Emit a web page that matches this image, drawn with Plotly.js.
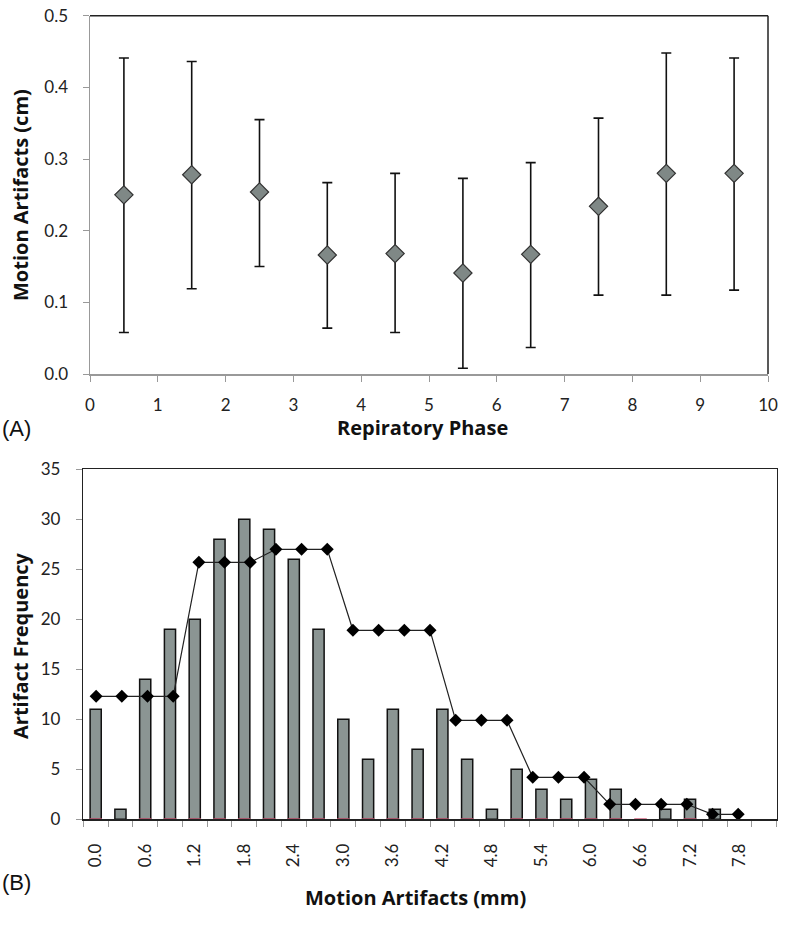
<!DOCTYPE html>
<html>
<head>
<meta charset="utf-8">
<script src="https://cdn.plot.ly/plotly-3.0.1.min.js"></script>
<style>html,body{margin:0;padding:0;background:#fff;}#chart{width:791px;height:931px;}</style>
</head>
<body>
<div id="chart"></div>
<script>
// ---------- Panel A data ----------
const phases = [0.5, 1.5, 2.5, 3.5, 4.5, 5.5, 6.5, 7.5, 8.5, 9.5];
const meanArtifact = [0.250, 0.278, 0.254, 0.166, 0.168, 0.141, 0.167, 0.234, 0.280, 0.280];
const upperArtifact = [0.441, 0.436, 0.355, 0.267, 0.280, 0.273, 0.295, 0.357, 0.448, 0.441];
const lowerArtifact = [0.058, 0.119, 0.150, 0.064, 0.058, 0.008, 0.037, 0.110, 0.110, 0.117];
const phaseTicks = [0, 1, 2, 3, 4, 5, 6, 7, 8, 9, 10];
const artifactTicks = [0.0, 0.1, 0.2, 0.3, 0.4, 0.5];

// ---------- Panel B data ----------
const binLabels = ['0.0','0.3','0.6','0.9','1.2','1.5','1.8','2.1','2.4','2.7','3.0','3.3','3.6','3.9',
                   '4.2','4.5','4.8','5.1','5.4','5.7','6.0','6.3','6.6','6.9','7.2','7.5','7.8','8.1'];
const binFreq = [11, 1, 14, 19, 20, 28, 30, 29, 26, 19, 10, 6, 11, 7, 11, 6, 1, 5, 3, 2, 4, 3, 0, 1, 2, 1, 0, 0];
const pinkVals = [0, null, 0, 0, 0, 0, 0, 0, 0, 0, 0, 0, 0, 0, 0, 0, null, 0, 0, 0, 0, 0, 0, null, 0, null, null, null];
const lineCats = ['0.0','0.3','0.6','0.9','1.2','1.5','1.8','2.1','2.4','2.7','3.0','3.3','3.6','3.9',
                  '4.2','4.5','4.8','5.1','5.4','5.7','6.0','6.3','6.6','6.9','7.2','7.5','7.8'];
const lineVals = [12.3, 12.3, 12.3, 12.3, 25.7, 25.7, 25.7, 27.0, 27.0, 27.0, 18.9, 18.9, 18.9, 18.9,
                  9.9, 9.9, 9.9, 4.2, 4.2, 4.2, 1.5, 1.5, 1.5, 1.5, 0.5, 0.5];
const freqTicks = [0, 5, 10, 15, 20, 25, 30, 35];
const binTickText = binLabels.map((l, i) => (i % 2 === 0 && i < 27) ? l : '');

const errPlus = upperArtifact.map((u, i) => u - meanArtifact[i]);
const errMinus = lowerArtifact.map((l, i) => meanArtifact[i] - l);
const barShown = binFreq.map(v => v === 0 ? null : v);   // empty bins draw nothing

const W = 791, H = 931;
const px = v => v / W;
const py = v => 1 - v / H;

const tickFont = {family: 'Lato, "Open Sans", sans-serif', size: 17, color: '#222'};
const titleFont = {family: '"Open Sans", Lato, sans-serif', size: 20, color: '#111', weight: 'bold'};
const panelFont = {family: '"Liberation Sans", Arial, sans-serif', size: 22, color: '#111'};

const traces = [
  {
    type: 'scatter', mode: 'markers', x: phases, y: meanArtifact,
    xaxis: 'x', yaxis: 'y',
    marker: {symbol: 'diamond', size: 14, color: '#7f8886', line: {color: '#333', width: 1.2}},
    error_y: {type: 'data', symmetric: false, array: errPlus, arrayminus: errMinus,
              color: '#111', thickness: 1.6, width: 5}
  },
  {
    type: 'bar', x: binLabels, y: barShown, xaxis: 'x2', yaxis: 'y2', width: 0.45,
    marker: {color: '#8b9593', line: {color: '#111', width: 1.5}}
  },
  {
    type: 'scatter', mode: 'markers', x: binLabels, y: pinkVals, xaxis: 'x2', yaxis: 'y2',
    marker: {symbol: 'line-ew', size: 9, line: {color: '#d05a78', width: 2}}, cliponaxis: false
  },
  {
    type: 'scatter', mode: 'lines+markers', x: lineCats.slice(0, lineVals.length), y: lineVals,
    xaxis: 'x3', yaxis: 'y2',
    line: {color: '#222', width: 1.2},
    marker: {symbol: 'diamond', size: 10, color: '#000'}
  }
];

const layout = {
  width: W, height: H,
  margin: {l: 0, r: 0, t: 0, b: 0},
  paper_bgcolor: '#fff', plot_bgcolor: '#fff',
  showlegend: false,
  xaxis: {
    domain: [px(90), px(768)], anchor: 'y', range: [0, 10],
    tickvals: phaseTicks, ticks: 'outside', ticklen: 6, tickcolor: '#999', tickwidth: 1,
    showline: true, linecolor: '#999', linewidth: 1.5, showgrid: false, zeroline: false,
    tickfont: tickFont, ticklabelstandoff: 9
  },
  yaxis: {
    domain: [py(374), py(15.7)], anchor: 'x', range: [0, 0.5],
    tickvals: artifactTicks, tickformat: '.1f', ticks: 'outside', ticklen: 6, tickcolor: '#999',
    showline: true, linecolor: '#999', linewidth: 1.5, showgrid: false, zeroline: false,
    tickfont: tickFont, ticklabelstandoff: 11
  },
  xaxis2: {
    domain: [px(83.3), px(776.7)], anchor: 'y2', type: 'category',
    categoryorder: 'array', categoryarray: binLabels, range: [-0.5, binLabels.length - 0.5],
    tickvals: binLabels, ticktext: binTickText, tickson: 'boundaries',
    ticks: 'outside', ticklen: 6, tickcolor: '#999', tickangle: -90,
    showline: true, linecolor: '#222', linewidth: 1.5, mirror: true, showgrid: false, zeroline: false,
    tickfont: tickFont, ticklabelstandoff: 16
  },
  xaxis3: {
    domain: [px(83.3), px(776.7)], anchor: 'y2', overlaying: 'x2', type: 'category',
    categoryorder: 'array', categoryarray: lineCats, range: [-0.5, lineCats.length - 0.5],
    visible: false
  },
  yaxis2: {
    domain: [py(819.3), py(469.3)], anchor: 'x2', range: [0, 35],
    tickvals: freqTicks, ticks: 'outside', ticklen: 6, tickcolor: '#999',
    showline: true, linecolor: '#222', linewidth: 1.5, mirror: true, showgrid: false, zeroline: false,
    tickfont: tickFont, ticklabelstandoff: 12
  },
  shapes: [
    {type: 'line', xref: 'x domain', yref: 'y domain', x0: 0, x1: 1, y0: 1, y1: 1, line: {color: '#222', width: 1.5}},
    {type: 'line', xref: 'x domain', yref: 'y domain', x0: 1, x1: 1, y0: 0, y1: 1, line: {color: '#222', width: 1.5}}
  ],
  annotations: [
    {text: 'Repiratory Phase', xref: 'paper', yref: 'paper', x: px(422), y: py(427), showarrow: false,
     xanchor: 'center', yanchor: 'middle', font: titleFont},
    {text: 'Motion Artifacts (cm)', xref: 'paper', yref: 'paper', x: px(20), y: py(195), showarrow: false,
     textangle: -90, xanchor: 'center', yanchor: 'middle', font: titleFont},
    {text: 'Artifact Frequency', xref: 'paper', yref: 'paper', x: px(20), y: py(646), showarrow: false,
     textangle: -90, xanchor: 'center', yanchor: 'middle', font: titleFont},
    {text: 'Motion Artifacts (mm)', xref: 'paper', yref: 'paper', x: px(416), y: py(897), showarrow: false,
     xanchor: 'center', yanchor: 'middle', font: titleFont},
    {text: '(A)', xref: 'paper', yref: 'paper', x: px(0), y: py(428), showarrow: false,
     xanchor: 'left', yanchor: 'middle', font: panelFont},
    {text: '(B)', xref: 'paper', yref: 'paper', x: px(0), y: py(882), showarrow: false,
     xanchor: 'left', yanchor: 'middle', font: panelFont}
  ]
};

Plotly.newPlot('chart', traces, layout, {staticPlot: true, displayModeBar: false});
</script>
</body>
</html>
